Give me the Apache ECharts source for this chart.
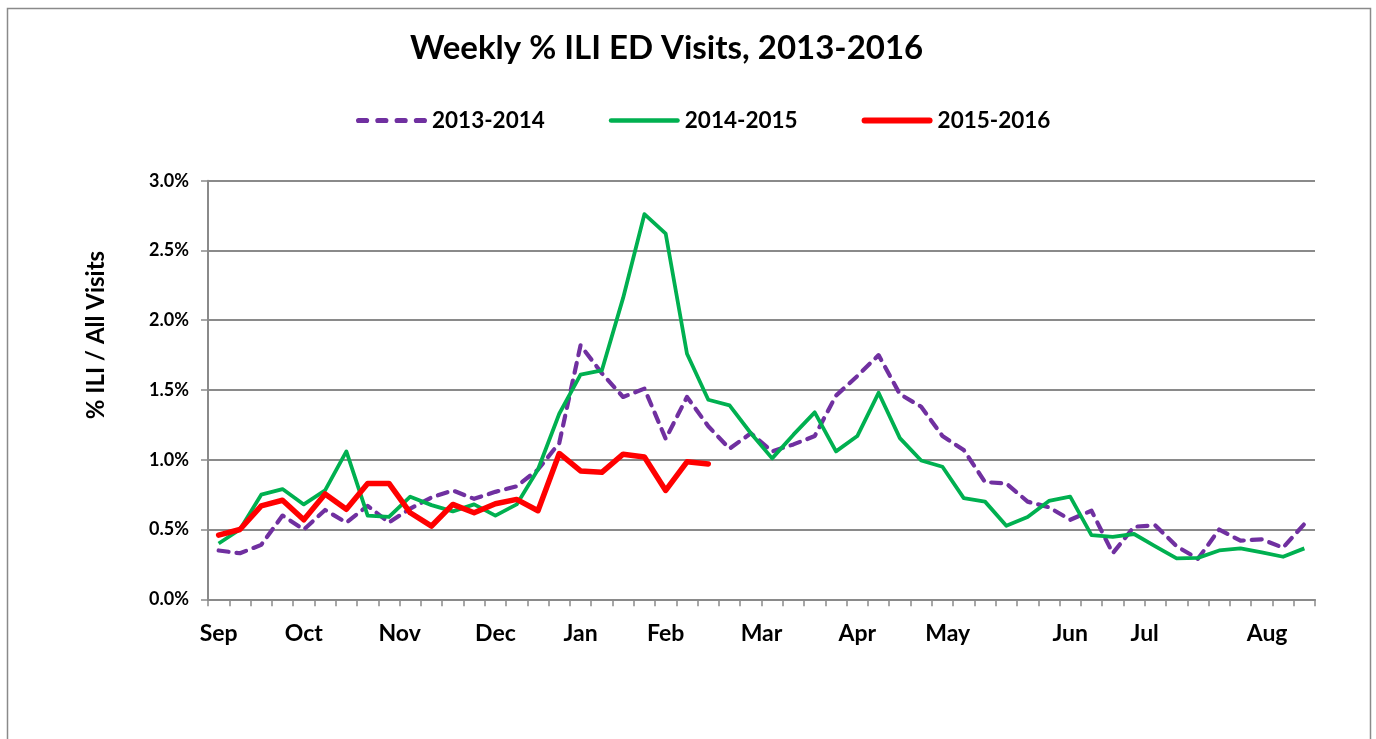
<!DOCTYPE html>
<html>
<head>
<meta charset="utf-8">
<script src="https://cdn.jsdelivr.net/npm/echarts@6/dist/echarts.min.js"></script>
<style>
html,body{margin:0;padding:0;background:#fff;}
#chart{width:1376px;height:739px;}
</style>
</head>
<body>
<div id="chart"></div>
<script>
const weeks = ['1','2','3','4','5','6','7','8','9','10','11','12','13','14','15','16','17','18','19','20','21','22','23','24','25','26',
  '27','28','29','30','31','32','33','34','35','36','37','38','39','40','41','42','43','44','45','46','47','48','49','50','51','52'];

const season1314 = [0.35,0.33,0.39,0.60,0.50,0.64,0.55,0.67,0.55,0.65,0.73,0.78,0.72,0.77,0.81,0.93,1.12,1.82,1.62,1.45,1.51,1.15,1.45,1.24,1.08,1.19,
  1.06,1.11,1.17,1.46,1.60,1.75,1.47,1.38,1.17,1.07,0.84,0.83,0.70,0.66,0.57,0.635,0.33,0.52,0.53,0.38,0.29,0.50,0.42,0.43,0.37,0.54];

const season1415 = [0.40,0.50,0.75,0.79,0.68,0.78,1.06,0.60,0.59,0.735,0.675,0.63,0.68,0.60,0.68,0.93,1.33,1.61,1.64,2.16,2.76,2.62,1.76,1.43,1.39,1.19,
  1.01,1.18,1.34,1.06,1.17,1.48,1.155,0.995,0.95,0.725,0.70,0.527,0.59,0.705,0.736,0.46,0.448,0.468,0.38,0.293,0.297,0.35,0.365,0.336,0.305,0.365];

const season1516 = [0.46,0.50,0.67,0.71,0.57,0.755,0.645,0.83,0.83,0.62,0.525,0.68,0.62,0.685,0.716,0.635,1.045,0.92,0.91,1.04,1.02,0.78,0.985,0.97];

const seriesNames = ['2013-2014','2014-2015','2015-2016'];

// month tick labels and where they sit along the week scale
const monthLabels = ['Sep','Oct','Nov','Dec','Jan','Feb','Mar','Apr','May','Jun','Jul','Aug'];
const monthLabelWeek = [0.5,4.5,9.0,13.5,17.5,21.5,26.0,30.5,34.75,40.5,44.0,49.75];

const yTicks = [0,0.5,1.0,1.5,2.0,2.5,3.0];

const FONT = 'Lato';

// legend sample shapes (rounded dashes / rounded bars)
function roundBar(x, w, h){
  const r = h/2;
  return 'M' + (x + r) + ',0 h' + (w - h) + ' a' + r + ',' + r + ' 0 0 1 0,' + h + ' h' + (-(w - h)) + ' a' + r + ',' + r + ' 0 0 1 0,' + (-h) + ' z ';
}
const iconDashed = 'path://' + roundBar(0,13,5) + roundBar(19,13,5) + roundBar(38,13,5) + roundBar(57,13,5);
const iconGreen = 'path://' + roundBar(0,71,4.5);
const iconRed = 'path://' + roundBar(0,71,6);

const chart = echarts.init(document.getElementById('chart'), null, {renderer:'canvas'});

const option = {
  animation:false,
  backgroundColor:'#ffffff',
  title:{
    text:'Weekly % ILI ED Visits, 2013-2016',
    left:405, top:27,
    textStyle:{fontFamily:FONT,fontWeight:'bold',fontSize:33,color:'#000'}
  },
  legend:{
    left:351, top:104,
    itemWidth:71, itemHeight:7, itemGap:64,
    itemStyle:{borderWidth:0},
    textStyle:{fontFamily:FONT,fontWeight:'bold',fontSize:22.5,color:'#000'},
    data:[
      {name:seriesNames[0], icon:iconDashed},
      {name:seriesNames[1], icon:iconGreen},
      {name:seriesNames[2], icon:iconRed}
    ]
  },
  graphic:[{
    type:'rect', left:5, top:6, z:-10,
    shape:{width:1363,height:780},
    style:{fill:'none',stroke:'#8a8a8a',lineWidth:1.5}
  }],
  grid:{left:208,right:61,top:180.7,bottom:139.7,containLabel:false,outerBoundsMode:'none'},
  xAxis:[{
    type:'category', data:weeks, boundaryGap:true, position:'bottom',
    axisLine:{show:true,lineStyle:{color:'#8a8a8a',width:2}},
    axisTick:{show:true,interval:0,length:7,alignWithLabel:false,lineStyle:{color:'#8a8a8a',width:1.5}},
    axisLabel:{show:false},
    splitLine:{show:false}
  },{
    type:'value', min:0, max:weeks.length, interval:0.25, position:'bottom',
    axisLine:{show:false}, axisTick:{show:false}, splitLine:{show:false},
    axisLabel:{
      show:true, margin:23,
      fontFamily:FONT, fontWeight:'bold', fontSize:23, color:'#000',
      formatter:function(v){
        for (let k=0;k<monthLabelWeek.length;k++){ if (Math.abs(monthLabelWeek[k]-v)<1e-6) return monthLabels[k]; }
        return '';
      }
    }
  }],
  yAxis:{
    type:'value', min:yTicks[0], max:yTicks[yTicks.length-1], interval:0.5,
    name:'% ILI / All Visits', nameLocation:'middle', nameRotate:90, nameGap:100,
    nameTextStyle:{fontFamily:FONT,fontWeight:'bold',fontSize:24,color:'#000',padding:[0,0,0,110]},
    axisLine:{show:true,lineStyle:{color:'#8a8a8a',width:2}},
    axisTick:{show:true,length:7,lineStyle:{color:'#8a8a8a',width:1.5}},
    splitLine:{show:true,lineStyle:{color:'#8a8a8a',width:1.8}},
    axisLabel:{margin:19,fontFamily:FONT,fontWeight:'bold',fontSize:18,color:'#000',
      formatter:function(v){return v.toFixed(1)+'%';}}
  },
  series:[{
    name:seriesNames[0], type:'line', data:season1314, symbol:'none', xAxisIndex:0,
    lineStyle:{color:'#7030A0',width:4.2,type:[10,8],cap:'round',join:'round'},
    itemStyle:{color:'#7030A0',borderWidth:0}, z:3
  },{
    name:seriesNames[1], type:'line', data:season1415, symbol:'none', xAxisIndex:0,
    lineStyle:{color:'#00B050',width:3.8,join:'round'},
    itemStyle:{color:'#00B050',borderWidth:0}, z:4
  },{
    name:seriesNames[2], type:'line', data:season1516, symbol:'none', xAxisIndex:0,
    lineStyle:{color:'#FF0000',width:5.5,cap:'round',join:'round'},
    itemStyle:{color:'#FF0000',borderWidth:0}, z:5
  }]
};
chart.setOption(option);
</script>
</body>
</html>
